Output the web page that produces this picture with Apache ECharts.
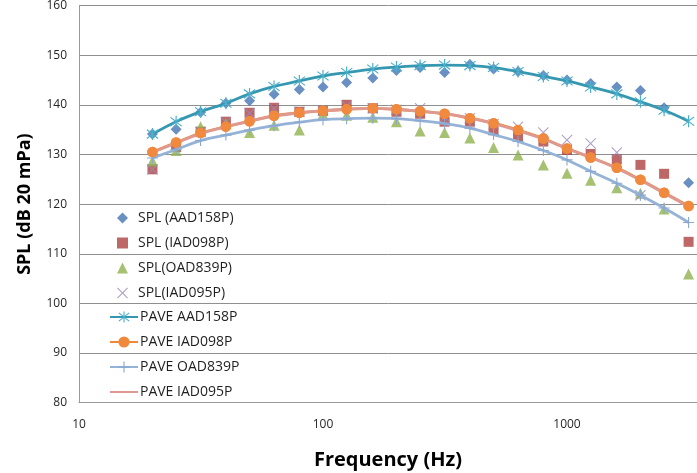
<!DOCTYPE html>
<html>
<head>
<meta charset="utf-8">
<script src="https://cdn.jsdelivr.net/npm/echarts@6/dist/echarts.min.js"></script>
<style>html,body{margin:0;padding:0;background:#fff}#c{width:697px;height:473px}</style>
</head>
<body>
<div id="c"></div>
<script>
const freqs = [20,25,31.5,40,50,63,80,100,125,160,200,250,315,400,500,630,800,1000,1250,1600,2000,2500,3150];
const splAAD158P = [134.1,135.1,138.5,140.3,140.8,142.1,143.1,143.6,144.5,145.4,146.9,147.5,146.5,148.1,147.2,146.7,145.9,145.0,144.3,143.6,142.9,139.4,124.3];
const splIAD098P = [127.0,131.5,134.6,136.6,138.4,139.4,138.6,138.8,140.0,139.3,138.6,138.2,136.6,136.6,134.9,133.6,132.6,130.9,130.1,129.0,127.9,126.1,112.4];
const splOAD839P = [128.7,130.8,135.6,136.3,134.4,135.9,134.9,138.1,137.9,137.5,136.6,134.7,134.4,133.3,131.4,129.9,127.9,126.2,124.8,123.3,122.2,119.0,105.9];
const splIAD095P = [127.0,131.5,134.5,136.5,138.3,139.3,138.6,138.8,139.8,139.3,139.0,139.3,137.5,137.3,136.1,135.6,134.4,132.9,132.2,130.4,121.8,null,null];
const paveAAD158P = [134.1,136.6,138.6,140.3,142.2,143.7,144.8,145.8,146.5,147.2,147.6,147.9,148.0,147.9,147.5,146.7,145.7,144.8,143.6,142.2,140.6,138.9,136.7];
const paveIAD098P = [130.5,132.4,134.3,135.6,136.7,137.8,138.4,138.8,139.1,139.3,139.1,138.7,138.2,137.3,136.3,134.9,133.2,131.2,129.4,127.3,124.9,122.3,119.6];
const paveOAD839P = [129.3,131.0,132.8,133.9,134.9,135.8,136.5,137.0,137.2,137.3,137.2,136.8,136.2,135.3,134.0,132.6,130.8,128.9,126.6,124.2,121.8,119.2,116.3];
const paveIAD095P = [130.4,132.3,134.2,135.6,136.7,137.7,138.4,138.8,139.1,139.3,139.1,138.7,138.2,137.3,136.2,134.8,133.1,131.2,129.4,127.2,124.8,122.2,119.5];
const yTicks = [80,90,100,110,120,130,140,150,160];
const xTicks = [10,100,1000,10000];

const pairs = arr => freqs.map((f,i)=> arr[i]==null ? null : [f, arr[i]]).filter(d=>d);

const plusPath = 'path://M9,0H11V9H20V11H11V20H9V11H0V9H9Z';
const xPath = 'path://M1.4,0L10,8.6L18.6,0L20,1.4L11.4,10L20,18.6L18.6,20L10,11.4L1.4,20L0,18.6L8.6,10L0,1.4Z';
const starPath = 'path://M1.4,2L10,8.6L18.6,2L20,3.4L11,10L20,16.6L18.6,18L10,11.4L1.4,18L0,16.6L9,10L0,3.4Z M9,0H11V20H9Z';

const chart = echarts.init(document.getElementById('c'), null, {renderer:'canvas'});
const scatterNames = ['SPL (AAD158P)','SPL (IAD098P)','SPL(OAD839P)','SPL(IAD095P)'];
const lineNames = ['PAVE AAD158P','PAVE IAD098P','PAVE OAD839P','PAVE IAD095P'];
const legText = {fontFamily:'Open Sans', fontSize:14, lineHeight:14, color:'#1f1f1f'};
chart.setOption({
  animation:false,
  backgroundColor:'#fff',
  grid:{left:79, right:-114, top:5.5, bottom:70.3, containLabel:false, outerBoundsMode:'none'},
  legend:[{
    data:scatterNames, orient:'vertical', left:117, top:211, padding:0,
    itemWidth:11, itemHeight:11, itemGap:11,
    textStyle:Object.assign({padding:[0,0,0,5]}, legText)
  },{
    data:lineNames, orient:'vertical', left:109, top:310, padding:0,
    itemWidth:28, itemHeight:14, itemGap:11,
    textStyle:Object.assign({padding:[0,0,0,-3]}, legText)
  }],
  xAxis:{
    type:'log', logBase:10, min:xTicks[0], max:xTicks[xTicks.length-1],
    axisLine:{show:true, lineStyle:{color:'#9a9a9a', width:1}},
    axisTick:{show:false},
    splitLine:{show:false},
    minorTick:{show:false},
    axisLabel:{margin:16, fontFamily:'Open Sans', fontSize:12, color:'#262626', formatter:v=>String(v)}
  },
  yAxis:{
    type:'value', min:yTicks[0], max:yTicks[yTicks.length-1], interval:10,
    name:'SPL (dB 20 mPa)', nameLocation:'middle', nameGap:45,
    nameTextStyle:{fontFamily:'Open Sans', fontWeight:'bold', fontSize:18, color:'#000'},
    axisLine:{show:true, lineStyle:{color:'#9a9a9a', width:1}},
    axisTick:{show:false},
    splitLine:{show:true, lineStyle:{color:'#8f8f8f', width:1}},
    axisLabel:{margin:12, fontFamily:'Open Sans', fontSize:12, color:'#262626'}
  },
  graphic:[{type:'text', x:388, y:460, style:{text:'Frequency (Hz)', x:0, y:0, align:'center', verticalAlign:'middle', font:'bold 20px "Open Sans"', fill:'#000'}}],
  series:[
    {name:scatterNames[0], type:'scatter', data:pairs(splAAD158P), symbol:'diamond', symbolSize:11, itemStyle:{color:'#4473B4'}, z:2},
    {name:scatterNames[1], type:'scatter', data:pairs(splIAD098P), symbol:'rect', symbolSize:10, itemStyle:{color:'#AC4240'}, z:2},
    {name:scatterNames[2], type:'scatter', data:pairs(splOAD839P), symbol:'triangle', symbolSize:11, itemStyle:{color:'#8FB14D'}, z:2},
    {name:scatterNames[3], type:'scatter', data:pairs(splIAD095P), symbol:xPath, symbolSize:11, itemStyle:{color:'#9C8AB8'}, z:2},
    {name:lineNames[0], type:'line', data:pairs(paveAAD158P), smooth:0.4, symbol:starPath, symbolSize:12, showAllSymbol:true,
      lineStyle:{color:'#3598B0', width:2.8}, itemStyle:{color:'#4CB0CC'}, z:3},
    {name:lineNames[1], type:'line', data:pairs(paveIAD098P), smooth:0.4, symbol:'circle', symbolSize:10.5, showAllSymbol:true,
      lineStyle:{color:'#F0883A', width:2.8}, itemStyle:{color:'#F0893C', borderWidth:0}, z:3},
    {name:lineNames[2], type:'line', data:pairs(paveOAD839P), smooth:0.4, symbol:plusPath, symbolSize:11, showAllSymbol:true,
      lineStyle:{color:'#95B3D7', width:2.8}, itemStyle:{color:'#8AA8D0'}, z:3},
    {name:lineNames[3], type:'line', data:pairs(paveIAD095P), smooth:0.4, symbol:'none',
      lineStyle:{color:'#DE9A92', width:2.8}, itemStyle:{color:'#DE9A92', opacity:0}, z:4},
    {name:'_markers', type:'scatter', data:pairs(paveIAD098P), symbol:'circle', symbolSize:10.5, itemStyle:{color:'#F0893C', opacity:0.95}, silent:true, z:5}
  ]
});
</script>
</body>
</html>
